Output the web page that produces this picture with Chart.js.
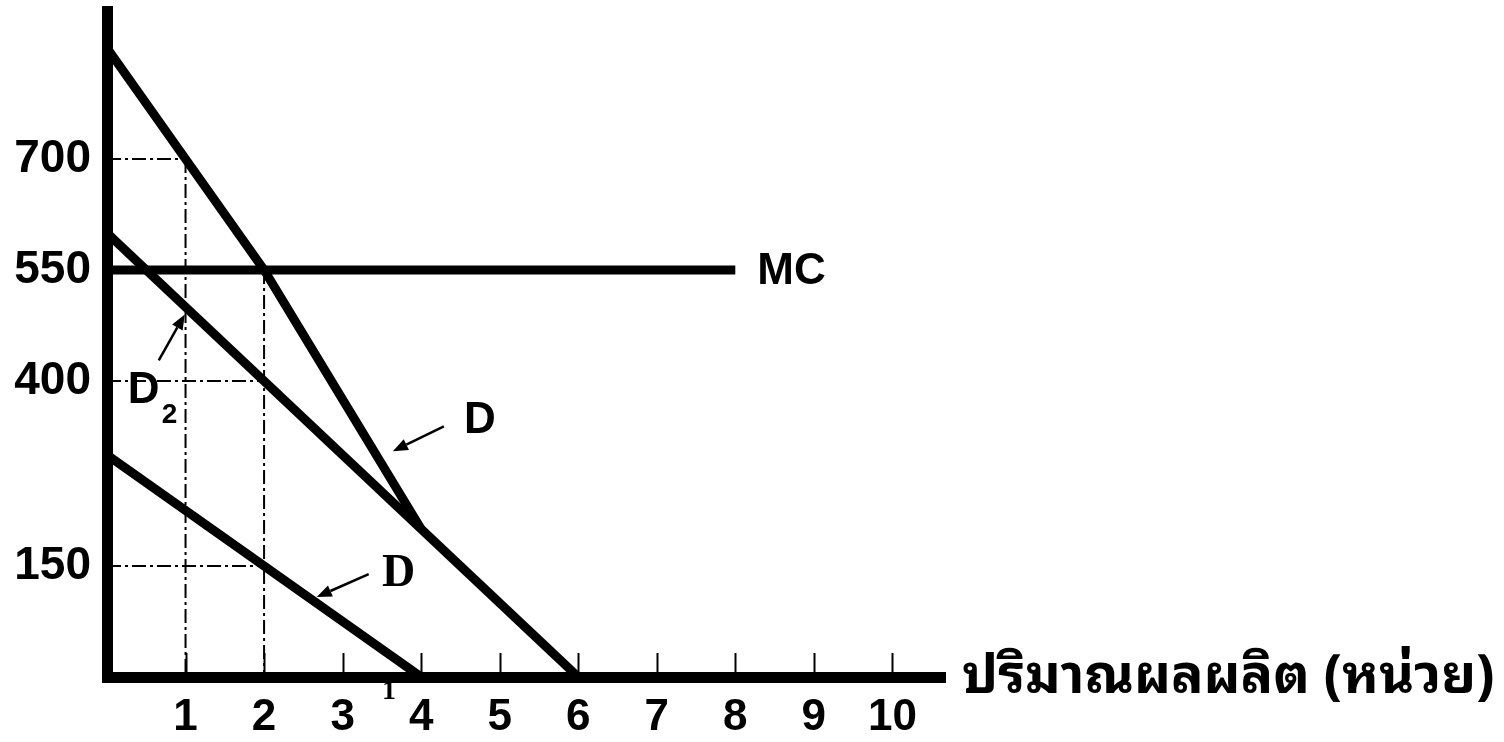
<!DOCTYPE html>
<html>
<head>
<meta charset="utf-8">
<script src="https://cdn.jsdelivr.net/npm/chart.js@4.4.1/dist/chart.umd.min.js"></script>
<style>
  html, body { margin: 0; padding: 0; background: #fff; }
</style>
</head>
<body>
<canvas id="myChart" width="1504" height="742"></canvas>
<script>
// quantity ticks and price ticks
const qTicks = [1, 2, 3, 4, 5, 6, 7, 8, 9, 10];
const priceTicks = [150, 400, 550, 700];

// demand curves (quantity, price)
const dQ = [0, 1, 2, 4];
const dP = [850, 700, 550, 200];
const d1Q = [0, 4];
const d1P = [300, 0];
const d2Q = [0, 6];
const d2P = [600, 0];
const mcQ = [0, 8];
const mcP = [550, 550];

// dash-dot guide lines, each one [q1, p1, q2, p2]
const guideLines = [
  [0, 700, 1, 700],
  [1, 700, 1, 0],
  [0, 400, 2, 400],
  [2, 550, 2, 0],
  [0, 150, 2, 150]
];

const xTitle = "ปริมาณผลผลิต (หน่วย)";

const pts = (qs, ps) => qs.map((q, i) => ({ x: q, y: ps[i] }));
const sans = "'Liberation Sans', Arial, sans-serif";
const serif = "'Liberation Serif', 'Times New Roman', serif";
const thai = "'Noto Sans Thai Looped', Loma, Garuda, Tahoma, 'Noto Sans Thai', 'DejaVu Sans', sans-serif";

const curve = (data) => ({
  data, showLine: true, pointRadius: 0, borderColor: "#000",
  borderWidth: 9, borderCapStyle: "butt", borderJoinStyle: "miter", fill: false
});

const datasets = [];
guideLines.forEach(g => {
  datasets.push({
    data: [{ x: g[0], y: g[1] }, { x: g[2], y: g[3] }],
    showLine: true, pointRadius: 0, borderColor: "#000", borderWidth: 2,
    borderDash: [14, 4, 3, 4], fill: false
  });
});
datasets.push(curve(pts(mcQ, mcP)));
datasets.push(curve(pts(d1Q, d1P)));
datasets.push(curve(pts(d2Q, d2P)));
datasets.push(curve(pts(dQ, dP)));

function arrow(ctx, fx, fy, tx, ty) {
  const a = Math.atan2(ty - fy, tx - fx);
  const len = 15, half = 6;
  const bx = tx - len * Math.cos(a), by = ty - len * Math.sin(a);
  ctx.beginPath();
  ctx.moveTo(fx, fy);
  ctx.lineTo(bx, by);
  ctx.lineWidth = 2.5;
  ctx.stroke();
  ctx.beginPath();
  ctx.moveTo(tx, ty);
  ctx.lineTo(bx + half * Math.sin(a), by - half * Math.cos(a));
  ctx.lineTo(bx - half * Math.sin(a), by + half * Math.cos(a));
  ctx.closePath();
  ctx.fill();
}

const overlay = {
  id: "overlay",
  afterDatasetsDraw(chart) {
    const { ctx, chartArea, scales: { x, y } } = chart;
    ctx.save();
    ctx.strokeStyle = "#000";
    ctx.fillStyle = "#000";

    // small tick marks standing on the quantity axis
    ctx.lineWidth = 2;
    qTicks.forEach(q => {
      const px = Math.round(x.getPixelForValue(q)) + 0.5;
      ctx.beginPath();
      ctx.moveTo(px, chartArea.bottom - 24);
      ctx.lineTo(px, chartArea.bottom);
      ctx.stroke();
    });

    // MC label
    ctx.font = "bold 44px " + sans;
    ctx.textAlign = "left";
    ctx.textBaseline = "middle";
    ctx.fillText("MC", x.getPixelForValue(mcQ[1]) + 22, y.getPixelForValue(mcP[1]) + 2);

    // D (market demand) arrow + label
    let tx = x.getPixelForValue(3.64), ty = y.getPixelForValue(305);
    arrow(ctx, tx + 51, ty - 25, tx, ty);
    ctx.textAlign = "center";
    ctx.fillText("D", tx + 87, ty - 30);

    // D2 arrow + label
    tx = x.getPixelForValue(0.99); ty = y.getPixelForValue(490);
    arrow(ctx, tx - 26, ty + 46, tx, ty);
    ctx.textAlign = "left";
    ctx.textBaseline = "alphabetic";
    ctx.fillText("D", tx - 57, ty + 89);
    ctx.font = "bold 28px " + sans;
    ctx.fillText("2", tx - 23, ty + 109);

    // D1 arrow + label (label drawn in serif, subscript sits under the axis)
    tx = x.getPixelForValue(2.67); ty = y.getPixelForValue(108);
    arrow(ctx, tx + 52, ty - 23, tx, ty);
    ctx.font = "bold 46px " + serif;
    ctx.textAlign = "center";
    ctx.textBaseline = "middle";
    ctx.fillText("D", tx + 82, ty - 23);
    ctx.font = "bold 28px " + serif;
    ctx.fillText("1", x.getPixelForValue(3.59), chartArea.bottom + 15);

    // quantity axis title, right of the axis end
    ctx.font = "bold 54px " + thai;
    ctx.textAlign = "left";
    ctx.fillText(xTitle, chartArea.right + 17, chartArea.bottom + 1);
    ctx.restore();
  }
};

new Chart(document.getElementById("myChart"), {
  type: "scatter",
  data: { datasets },
  options: {
    responsive: false,
    animation: false,
    layout: { padding: { top: 11, right: 559, bottom: 0, left: 0 } },
    plugins: { legend: { display: false }, tooltip: { enabled: false } },
    scales: {
      x: {
        type: "linear", min: 0, max: 10.67,
        afterBuildTicks: s => { s.ticks = qTicks.map(v => ({ value: v })); },
        afterFit: s => { s.height = 65; s.paddingLeft = 0; s.paddingRight = 0; },
        grid: { display: false, drawTicks: false },
        border: { display: true, color: "#000", width: 11 },
        ticks: { color: "#000", padding: 14, maxRotation: 0, font: { family: sans, size: 44, weight: "bold" } }
      },
      y: {
        type: "linear", min: 0, max: 900,
        afterBuildTicks: s => { s.ticks = priceTicks.map(v => ({ value: v })); },
        afterFit: s => { s.width = 107; s.paddingTop = 0; s.paddingBottom = 0; },
        grid: { display: false, drawTicks: false },
        border: { display: true, color: "#000", width: 11 },
        ticks: { color: "#000", padding: 16, font: { family: sans, size: 46, weight: "bold" } }
      }
    }
  },
  plugins: [overlay]
});
</script>
</body>
</html>
